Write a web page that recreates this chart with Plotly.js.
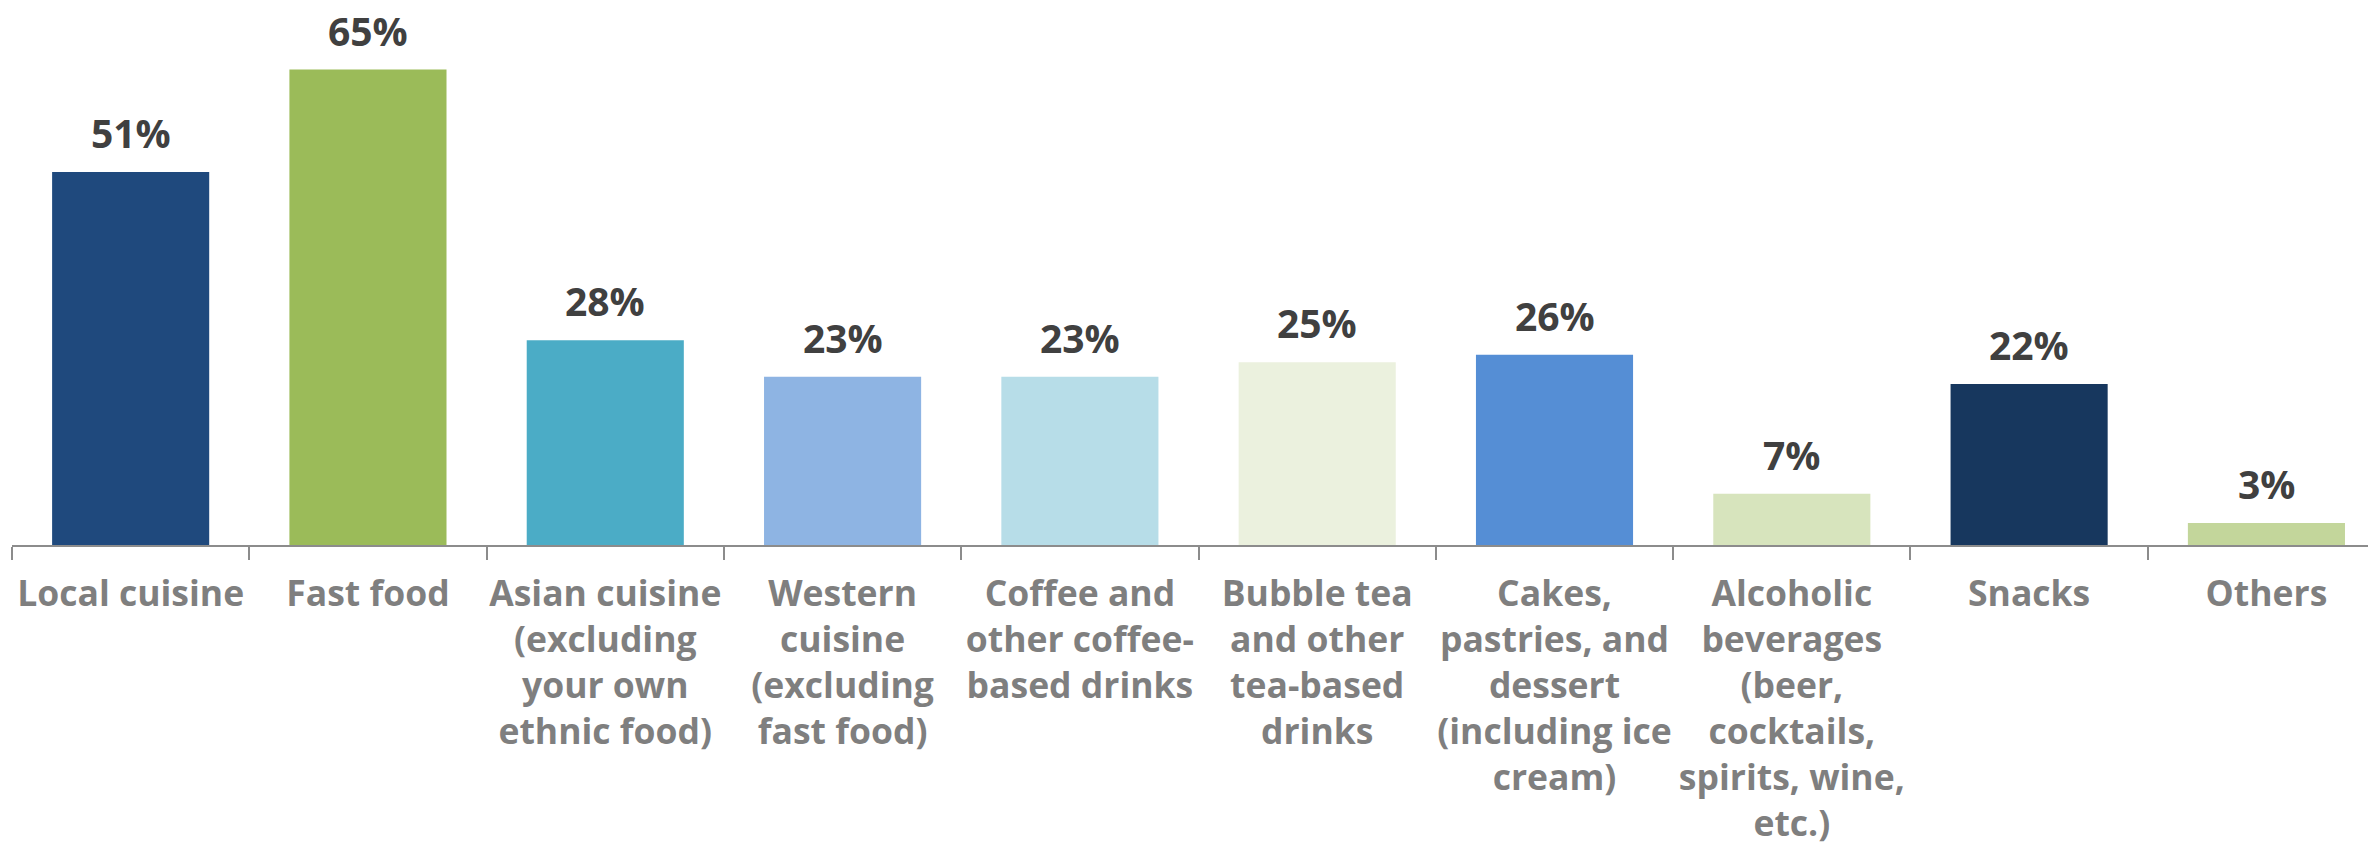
<!DOCTYPE html>
<html>
<head>
<meta charset="utf-8">
<script src="https://cdn.plot.ly/plotly-3.0.1.min.js"></script>
<style>html,body{margin:0;padding:0;background:#fff;}#chart{width:2368px;height:847px;}</style>
</head>
<body>
<div id="chart"></div>
<script>
const categories = [
  "Local cuisine",
  "Fast food",
  "Asian cuisine<br>(excluding<br>your own<br>ethnic food)",
  "Western<br>cuisine<br>(excluding<br>fast food)",
  "Coffee and<br>other coffee-<br>based drinks",
  "Bubble tea<br>and other<br>tea-based<br>drinks",
  "Cakes,<br>pastries, and<br>dessert<br>(including ice<br>cream)",
  "Alcoholic<br>beverages<br>(beer,<br>cocktails,<br>spirits, wine,<br>etc.)",
  "Snacks",
  "Others"
];
const values = [51, 65, 28, 23, 23, 25, 26, 7, 22, 3];
const barColors = ["#1F497D", "#9BBB59", "#4BACC6", "#8EB4E3", "#B7DDE8", "#EBF1DE", "#558ED5", "#D7E4BD", "#17375E", "#C3D69B"];
const valueLabels = values.map(v => v + "%");

const trace = {
  type: "bar",
  x: categories,
  y: values,
  marker: {color: barColors, line: {width: 0}},
  hoverinfo: "skip",
  cliponaxis: false
};

const annotations = categories.map((c, i) => ({
  x: c,
  y: values[i],
  xref: "x",
  yref: "y",
  text: valueLabels[i],
  showarrow: false,
  yanchor: "bottom",
  yshift: 11,
  font: {family: "Open Sans", size: 39, color: "#404040", weight: 700}
}));

const layout = {
  width: 2368,
  height: 847,
  margin: {l: 12, r: 0, t: 33, b: 302},
  paper_bgcolor: "#ffffff",
  plot_bgcolor: "#ffffff",
  showlegend: false,
  bargap: 0.338,
  xaxis: {
    type: "category",
    range: [-0.5, 9.428],
    showline: true,
    linecolor: "#8c8c8c",
    linewidth: 2,
    ticks: "outside",
    tickson: "boundaries",
    ticklen: 13,
    tickwidth: 2,
    tickcolor: "#8c8c8c",
    tickangle: 0,
    ticklabelstandoff: 16,
    tickfont: {family: "Open Sans", size: 35.5, color: "#7f7f7f", weight: 700},
    showgrid: false,
    zeroline: false,
    fixedrange: true
  },
  yaxis: {
    range: [0, 70],
    visible: false,
    showgrid: false,
    zeroline: false,
    fixedrange: true
  },
  annotations: annotations
};

Plotly.newPlot("chart", [trace], layout, {displayModeBar: false, staticPlot: true});
</script>
</body>
</html>
